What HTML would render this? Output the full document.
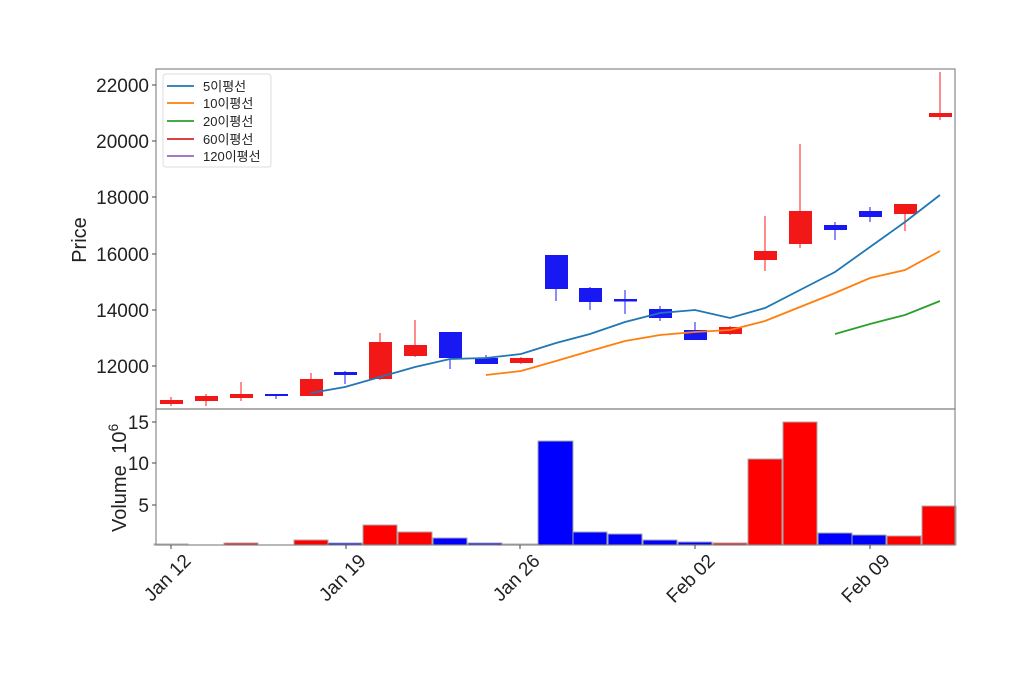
<!DOCTYPE html>
<html><head><meta charset="utf-8"><style>
html,body{margin:0;padding:0;background:#fff;}
svg{display:block;font-family:"Liberation Sans","Noto Sans CJK KR",sans-serif;}
</style></head><body>
<svg width="1024" height="675" viewBox="0 0 1024 675" xmlns="http://www.w3.org/2000/svg">
<rect width="1024" height="675" fill="#fff"/>
<g stroke-width="1.5">
<line x1="171" y1="397" x2="171" y2="406" stroke="#f66"/><rect x="160" y="400" width="23" height="4" fill="#f21818"/>
<line x1="206" y1="394" x2="206" y2="406" stroke="#f66"/><rect x="195" y="396" width="23" height="5" fill="#f21818"/>
<line x1="241" y1="382" x2="241" y2="401" stroke="#f66"/><rect x="230" y="394" width="23" height="4" fill="#f21818"/>
<line x1="276" y1="394" x2="276" y2="399" stroke="#66f"/><rect x="265" y="394" width="23" height="2" fill="#1818f2"/>
<line x1="311" y1="373" x2="311" y2="396" stroke="#f66"/><rect x="300" y="379" width="23" height="17" fill="#f21818"/>
<line x1="345" y1="371" x2="345" y2="384" stroke="#66f"/><rect x="334" y="372" width="23" height="3" fill="#1818f2"/>
<line x1="380" y1="333" x2="380" y2="380" stroke="#f66"/><rect x="369" y="342" width="23" height="37" fill="#f21818"/>
<line x1="415" y1="320" x2="415" y2="357" stroke="#f66"/><rect x="404" y="345" width="23" height="11" fill="#f21818"/>
<line x1="450" y1="332" x2="450" y2="369" stroke="#66f"/><rect x="439" y="332" width="23" height="26" fill="#1818f2"/>
<line x1="486" y1="355" x2="486" y2="364" stroke="#66f"/><rect x="475" y="358" width="23" height="6" fill="#1818f2"/>
<line x1="521" y1="357" x2="521" y2="364" stroke="#f66"/><rect x="510" y="358" width="23" height="5" fill="#f21818"/>
<line x1="556" y1="255" x2="556" y2="301" stroke="#66f"/><rect x="545" y="255" width="23" height="34" fill="#1818f2"/>
<line x1="590" y1="287" x2="590" y2="310" stroke="#66f"/><rect x="579" y="288" width="23" height="14" fill="#1818f2"/>
<line x1="625" y1="290" x2="625" y2="314" stroke="#66f"/><rect x="614" y="299" width="23" height="2.5" fill="#1818f2"/>
<line x1="660" y1="306" x2="660" y2="321" stroke="#66f"/><rect x="649" y="309" width="23" height="9" fill="#1818f2"/>
<line x1="695" y1="322" x2="695" y2="340" stroke="#66f"/><rect x="684" y="330" width="23" height="10" fill="#1818f2"/>
<line x1="730" y1="326" x2="730" y2="335" stroke="#f66"/><rect x="719" y="327" width="23" height="7" fill="#f21818"/>
<line x1="765" y1="216" x2="765" y2="271" stroke="#f66"/><rect x="754" y="251" width="23" height="9" fill="#f21818"/>
<line x1="800" y1="144" x2="800" y2="248" stroke="#f66"/><rect x="789" y="211" width="23" height="33" fill="#f21818"/>
<line x1="835" y1="222" x2="835" y2="240" stroke="#66f"/><rect x="824" y="225" width="23" height="5" fill="#1818f2"/>
<line x1="870" y1="207" x2="870" y2="222" stroke="#66f"/><rect x="859" y="211" width="23" height="6" fill="#1818f2"/>
<line x1="905" y1="204" x2="905" y2="231" stroke="#f66"/><rect x="894" y="204" width="23" height="10" fill="#f21818"/>
<line x1="940" y1="72" x2="940" y2="120" stroke="#f66"/><rect x="929" y="113" width="23" height="4" fill="#f21818"/>
</g>
<polyline fill="none" stroke="#1f77b4" stroke-width="1.8" points="311,393 345,387 380,377 415,367 450,359 486,358 521,354 556,343 590,334 625,322 660,313 695,310 730,318 765,308 800,290 835,272 870,247 905,222 940,195"/>
<polyline fill="none" stroke="#ff7f0e" stroke-width="1.8" points="486,375 521,371 556,361 590,351 625,341 660,335 695,332 730,330 765,321 800,307 835,293 870,278 905,270 940,251"/>
<polyline fill="none" stroke="#2ca02c" stroke-width="1.8" points="835,334 870,324 905,315 940,301"/>
<g stroke="#aaa" stroke-width="1">
<rect x="154" y="544" width="34" height="1" fill="#f00"/>
<rect x="224" y="543" width="34" height="2" fill="#f00"/>
<rect x="294" y="540" width="34" height="5" fill="#f00"/>
<rect x="328" y="543" width="34" height="2" fill="#00f"/>
<rect x="363" y="525" width="34" height="20" fill="#f00"/>
<rect x="398" y="532" width="34" height="13" fill="#f00"/>
<rect x="433" y="538" width="34" height="7" fill="#00f"/>
<rect x="468" y="543" width="34" height="2" fill="#00f"/>
<rect x="503" y="544" width="34" height="1" fill="#f00"/>
<rect x="538" y="441" width="35" height="104" fill="#00f"/>
<rect x="573" y="532" width="34" height="13" fill="#00f"/>
<rect x="608" y="534" width="34" height="11" fill="#00f"/>
<rect x="643" y="540" width="34" height="5" fill="#00f"/>
<rect x="678" y="542" width="34" height="3" fill="#00f"/>
<rect x="713" y="543" width="34" height="2" fill="#f00"/>
<rect x="748" y="459" width="34" height="86" fill="#f00"/>
<rect x="783" y="422" width="34" height="123" fill="#f00"/>
<rect x="818" y="533" width="34" height="12" fill="#00f"/>
<rect x="852" y="535" width="34" height="10" fill="#00f"/>
<rect x="887" y="536" width="34" height="9" fill="#f00"/>
<rect x="922" y="506" width="34" height="39" fill="#f00"/>
</g>
<rect x="156" y="69" width="799" height="340" fill="none" stroke="#888" stroke-width="1.2"/>
<rect x="156" y="409" width="799" height="136" fill="none" stroke="#888" stroke-width="1.2"/>
<g stroke="#444" stroke-width="1">
<line x1="152" y1="85" x2="156" y2="85"/><line x1="152" y1="141" x2="156" y2="141"/><line x1="152" y1="197" x2="156" y2="197"/><line x1="152" y1="254" x2="156" y2="254"/><line x1="152" y1="310" x2="156" y2="310"/><line x1="152" y1="366" x2="156" y2="366"/>
<line x1="152" y1="422" x2="156" y2="422"/><line x1="152" y1="463" x2="156" y2="463"/><line x1="152" y1="505" x2="156" y2="505"/>
<line x1="171" y1="545" x2="171" y2="549"/><line x1="346" y1="545" x2="346" y2="549"/><line x1="520" y1="545" x2="520" y2="549"/><line x1="695" y1="545" x2="695" y2="549"/><line x1="870" y1="545" x2="870" y2="549"/>
</g>
<g font-size="19" fill="#222" text-anchor="end">
<text x="149" y="92">22000</text><text x="149" y="148">20000</text><text x="149" y="204">18000</text><text x="149" y="261">16000</text><text x="149" y="317">14000</text><text x="149" y="373">12000</text>
<text x="149" y="429">15</text><text x="149" y="470">10</text><text x="149" y="512">5</text>
</g>
<g font-size="19" fill="#222" text-anchor="end">
<text transform="translate(192,562) rotate(-45)">Jan 12</text>
<text transform="translate(367,562) rotate(-45)">Jan 19</text>
<text transform="translate(541,562) rotate(-45)">Jan 26</text>
<text transform="translate(716,562) rotate(-45)">Feb 02</text>
<text transform="translate(891,562) rotate(-45)">Feb 09</text>
</g>
<text transform="translate(86,240) rotate(-90)" font-size="20" fill="#222" text-anchor="middle">Price</text>
<text transform="translate(126,532) rotate(-90)" font-size="20" fill="#222">Volume  <tspan dx="6">10</tspan><tspan font-size="14" dy="-8">6</tspan></text>
<rect x="163" y="74" width="108" height="93" fill="#fff" stroke="#ddd" rx="3"/>
<g stroke-width="1.8">
<line x1="167" y1="86" x2="194" y2="86" stroke="#1f77b4"/>
<line x1="167" y1="103" x2="194" y2="103" stroke="#ff7f0e"/>
<line x1="167" y1="121" x2="194" y2="121" stroke="#2ca02c"/>
<line x1="167" y1="139" x2="194" y2="139" stroke="#d62728"/>
<line x1="167" y1="156" x2="194" y2="156" stroke="#9467bd"/>
</g>
<g font-size="13" fill="#222">
<text x="203" y="91">5이평선</text>
<text x="203" y="108">10이평선</text>
<text x="203" y="126">20이평선</text>
<text x="203" y="144">60이평선</text>
<text x="203" y="161">120이평선</text>
</g>
</svg>
</body></html>
